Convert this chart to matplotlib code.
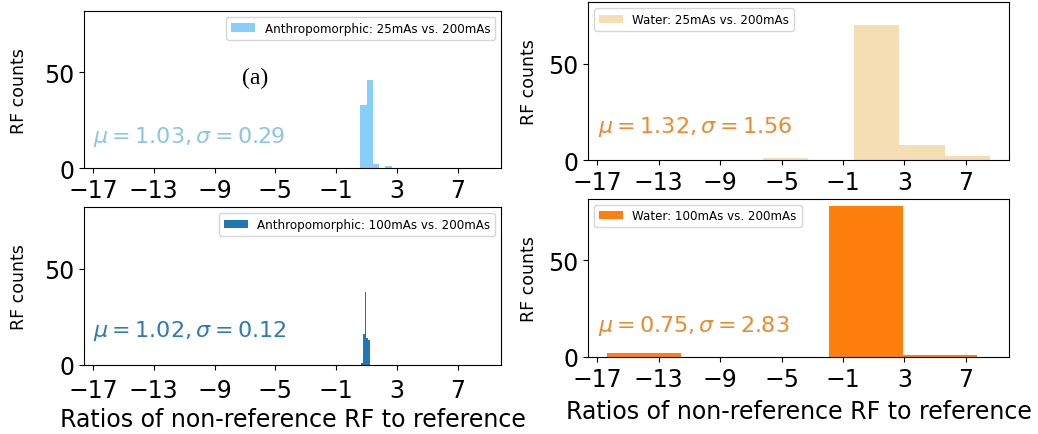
import numpy as np
import matplotlib
matplotlib.use("Agg")
import matplotlib.pyplot as plt

# histogram bin edges and counts
anth25_edges = [0.59, 1.00, 1.41, 1.82, 2.23, 2.64]
anth25_counts = [33, 46, 2, 0, 1]
anth100_edges = [0.66, 0.77, 0.88, 0.99, 1.10, 1.21]
anth100_counts = [1, 16, 38, 14, 13]
water25_edges = [-6.21, -3.25, -0.29, 2.67, 5.63, 8.59]
water25_counts = [1, 0, 70, 8, 2]
water100_edges = [-16.34, -11.53, -6.72, -1.91, 2.90, 7.71]
water100_counts = [2, 0, 0, 78, 1]

labels = ["Anthropomorphic: 25mAs vs. 200mAs", "Anthropomorphic: 100mAs vs. 200mAs",
          "Water: 25mAs vs. 200mAs", "Water: 100mAs vs. 200mAs"]
stats = [r"$\mu=1.03, \sigma=0.29$", r"$\mu=1.02, \sigma=0.12$",
         r"$\mu=1.32, \sigma=1.56$", r"$\mu=0.75, \sigma=2.83$"]
xticks = [-17, -13, -9, -5, -1, 3, 7]
yticks = [0, 50]

W, H = 1038, 435
fig = plt.figure(figsize=(W / 100, H / 100), dpi=100)


def rect(left, right, top, bottom):
    return [left / W, 1 - bottom / H, (right - left) / W, (bottom - top) / H]


ax_tl = fig.add_axes(rect(84, 501, 12, 169.3))
ax_bl = fig.add_axes(rect(84, 501, 208.3, 365.7), sharex=ax_tl, sharey=ax_tl)
ax_tr = fig.add_axes(rect(588.3, 1009.3, 3.3, 161.3), sharex=ax_tl, sharey=ax_tl)
ax_br = fig.add_axes(rect(588.3, 1009.3, 199.7, 358), sharex=ax_tl, sharey=ax_tl)

panels = [
    (ax_tl, anth25_edges, anth25_counts, "lightskyblue", "#8cc6e6", "upper right", 0.165),
    (ax_bl, anth100_edges, anth100_counts, "#1f77b4", "#2b7bb6", "upper right", 0.184),
    (ax_tr, water25_edges, water25_counts, "wheat", "#ec8a2e", "upper left", 0.177),
    (ax_br, water100_edges, water100_counts, "#ff7f0e", "#ec8a2e", "upper left", 0.166),
]

for i, (ax, edges, counts, col, tcol, loc, ty) in enumerate(panels):
    edges = np.asarray(edges)
    ax.bar(edges[:-1], counts, width=np.diff(edges), align="edge",
           color=col, label=labels[i])
    ax.legend(loc=loc, fontsize=8.6)
    ax.text(0.022, ty, stats[i], transform=ax.transAxes, color=tcol,
            fontsize=16, va="baseline", ha="left")
    ax.set_xticks(xticks)
    ax.set_yticks(yticks)
    ax.tick_params(labelsize=17)
    ax.set_ylabel("RF counts", fontsize=12.5)
    ax.yaxis.set_label_coords(-0.134 if i < 2 else -0.12, 0.5)

ax_bl.tick_params(axis="x", pad=6)
ax_bl.set_xlabel("Ratios of non-reference RF to reference", fontsize=17, labelpad=3.5)
ax_br.set_xlabel("Ratios of non-reference RF to reference", fontsize=17, labelpad=6)

ax_tl.text(0.41, 0.58, "(a)", transform=ax_tl.transAxes, family="Liberation Serif",
           fontsize=17, ha="center", va="center")

fig.savefig("out.png", dpi=100)
